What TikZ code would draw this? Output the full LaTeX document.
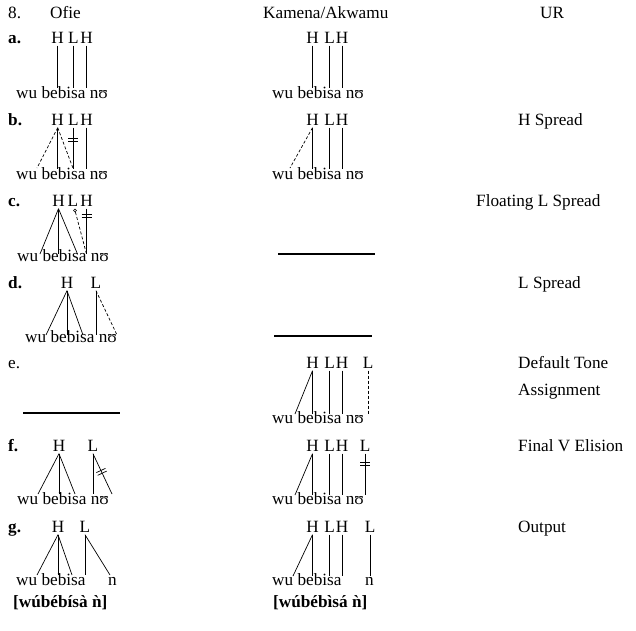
\documentclass[tikz,border=0pt]{standalone}
\usepackage{fontspec}
\setmainfont{Liberation Serif}
\usetikzlibrary{decorations.markings}
\tikzset{
  tone/.style={inner xsep=0pt, inner ysep=2.5pt, anchor=base},
  words/.style={inner sep=0pt, anchor=base west},
  assoc/.style={line width=0.7pt},
  spread/.style={line width=0.7pt, dash pattern=on 3pt off 2pt},
  blank/.style={line width=1.2pt},
  floatl/.style={circle, draw, line width=0.5pt, inner sep=0pt, minimum size=3pt},
  delink/.style={
    postaction={decorate},
    decoration={markings,
      mark=at position #1 with {\draw[line width=0.7pt] (-1.5pt,-5pt)--(-1.5pt,5pt) (1.5pt,-5pt)--(1.5pt,5pt);}
    }
  }
}

\begin{document}
\begin{tikzpicture}[x=1pt,y=-1pt,every node/.style={font=\fontsize{17.2}{20}\selectfont}]
  \useasboundingbox (0,0) rectangle (636,630);

  % headings
  \node[words] (num) at (8,18) {8.};
  \node[words] (ofie) at (50,18) {Ofie};
  \node[words] (kamena) at (263,18) {Kamena/Akwamu};
  \node[words] (ur) at (540,18) {UR};

  % row letters
  \node[words] (la) at (8,43) {\textbf{a.}};
  \node[words] (lb) at (8,125) {\textbf{b.}};
  \node[words] (lc) at (8,206) {\textbf{c.}};
  \node[words] (ld) at (8,288) {\textbf{d.}};
  \node[words] (le) at (8,368) {e.};
  \node[words] (lf) at (8,451) {\textbf{f.}};
  \node[words] (lg) at (8,532) {\textbf{g.}};

  % rule names
  \node[words] (rb) at (518,125) {H Spread};
  \node[words] (rc) at (476,206) {Floating L Spread};
  \node[words] (rd) at (518,288) {L Spread};
  \node[words] (re) at (518,368) {Default Tone};
  \node[words] (re2) at (518,395) {Assignment};
  \node[words] (rf) at (518,451) {Final V Elision};
  \node[words] (rg) at (518,532) {Output};

  % ---- Ofie ----
  % a.
  \node[tone] (aH1) at (57.7,43) {H};
  \node[tone] (aL1) at (73.3,43) {L};
  \node[tone] (aH2) at (86.7,43) {H};
  \node[words] (aw) at (16,98) {wu bebisa nʊ};
  \coordinate (a-bi) at (57.7,88);
  \coordinate (a-sa) at (73.3,88);
  \coordinate (a-nu) at (86.7,88);
  \draw[assoc] (aH1.south) -- (a-bi);
  \draw[assoc] (aL1.south) -- (a-sa);
  \draw[assoc] (aH2.south) -- (a-nu);

  % b.
  \node[tone] (bH1) at (57.7,125) {H};
  \node[tone] (bL1) at (73.3,125) {L};
  \node[tone] (bH2) at (86.7,125) {H};
  \node[words] (bw) at (16,179) {wu bebisa nʊ};
  \coordinate (b-wu) at (37,168);
  \coordinate (b-bi) at (57.7,169);
  \coordinate (b-sa) at (73.3,169);
  \coordinate (b-nu) at (86.7,169);
  \draw[spread] (bH1.south) -- (b-wu);
  \draw[spread] (bH1.south) -- (b-sa);
  \draw[assoc] (bH1.south) -- (b-bi);
  \draw[assoc,delink=0.3] (bL1.south) -- (b-sa);
  \draw[assoc] (bH2.south) -- (b-nu);

  % c.
  \node[tone] (cH1) at (58.5,206) {H};
  \node[tone] (cL1) at (73,206) {L};
  \node[tone] (cH2) at (86.5,206) {H};
  \node[floatl] (cfl) at (75,210.5) {};
  \node[words] (cw) at (17,261) {wu bebisa nʊ};
  \coordinate (c-wu) at (40,254);
  \coordinate (c-bi) at (58.5,254);
  \coordinate (c-sa) at (77.5,254);
  \coordinate (c-nu) at (86.5,254);
  \draw[assoc] (cH1.south) -- (c-wu);
  \draw[assoc] (cH1.south) -- (c-bi);
  \draw[assoc] (cH1.south) -- (c-sa);
  \draw[spread] (cfl) -- (c-nu);
  \draw[assoc,delink=0.15] (cH2.south) -- (c-nu);

  % d.
  \node[tone] (dH1) at (67,288) {H};
  \node[tone] (dL1) at (96,288) {L};
  \node[words] (dw) at (25,342) {wu bebisa nʊ};
  \coordinate (d-wu) at (46,335);
  \coordinate (d-bi) at (67,335);
  \coordinate (d-sa) at (83,335);
  \coordinate (d-n) at (96,335);
  \coordinate (d-nu) at (117,335);
  \draw[assoc] (dH1.south) -- (d-wu);
  \draw[assoc] (dH1.south) -- (d-bi);
  \draw[assoc] (dH1.south) -- (d-sa);
  \draw[assoc] (dL1.south) -- (d-n);
  \draw[spread] (dL1.south) -- (d-nu);

  % e.
  \draw[blank] (23,413) -- (120,413);

  % f.
  \node[tone] (fH1) at (59,451) {H};
  \node[tone] (fL1) at (93,451) {L};
  \node[words] (fw) at (17,504) {wu bebisa nʊ};
  \coordinate (f-wu) at (38,494);
  \coordinate (f-bi) at (59,494);
  \coordinate (f-sa) at (75,494);
  \coordinate (f-n) at (93,494);
  \coordinate (f-nu) at (112,494);
  \draw[assoc] (fH1.south) -- (f-wu);
  \draw[assoc] (fH1.south) -- (f-bi);
  \draw[assoc] (fH1.south) -- (f-sa);
  \draw[assoc] (fL1.south) -- (f-n);
  \draw[assoc,delink=0.45] (fL1.south) -- (f-nu);

  % g.
  \node[tone] (gH1) at (58,532) {H};
  \node[tone] (gL1) at (85,532) {L};
  \node[words] (gw) at (16,585) {wu bebisa};
  \node[words] (gn) at (108,585) {n};
  \coordinate (g-wu) at (37,575);
  \coordinate (g-bi) at (58,575);
  \coordinate (g-sa) at (72,575);
  \coordinate (g-sa2) at (85,575);
  \coordinate (g-n) at (110,575);
  \draw[assoc] (gH1.south) -- (g-wu);
  \draw[assoc] (gH1.south) -- (g-bi);
  \draw[assoc] (gH1.south) -- (g-sa);
  \draw[assoc] (gL1.south) -- (g-sa2);
  \draw[assoc] (gL1.south) -- (g-n);
  \node[words] (gout) at (13,607) {\textbf{[wúbébísà ǹ]}};

  % ---- Kamena/Akwamu ----
  % a.
  \node[tone] (kaH1) at (312.5,43) {H};
  \node[tone] (kaL1) at (329.5,43) {L};
  \node[tone] (kaH2) at (342,43) {H};
  \node[words] (kaw) at (272,98) {wu bebisa nʊ};
  \coordinate (ka-bi) at (312.5,88);
  \coordinate (ka-sa) at (329.5,88);
  \coordinate (ka-nu) at (342,88);
  \draw[assoc] (kaH1.south) -- (ka-bi);
  \draw[assoc] (kaL1.south) -- (ka-sa);
  \draw[assoc] (kaH2.south) -- (ka-nu);

  % b.
  \node[tone] (kbH1) at (312.5,125) {H};
  \node[tone] (kbL1) at (329.5,125) {L};
  \node[tone] (kbH2) at (342,125) {H};
  \node[words] (kbw) at (272,179) {wu bebisa nʊ};
  \coordinate (kb-wu) at (290,168);
  \coordinate (kb-bi) at (312.5,169);
  \coordinate (kb-sa) at (329.5,169);
  \coordinate (kb-nu) at (342,169);
  \draw[spread] (kbH1.south) -- (kb-wu);
  \draw[assoc] (kbH1.south) -- (kb-bi);
  \draw[assoc] (kbL1.south) -- (kb-sa);
  \draw[assoc] (kbH2.south) -- (kb-nu);

  % c. and d.
  \draw[blank] (278,254) -- (375,254);
  \draw[blank] (274,336) -- (372,336);

  % e.
  \node[tone] (keH1) at (312.5,368) {H};
  \node[tone] (keL1) at (329.5,368) {L};
  \node[tone] (keH2) at (342,368) {H};
  \node[tone] (keL2) at (368,368) {L};
  \node[words] (kew) at (272,423) {wu bebisa nʊ};
  \coordinate (ke-wu) at (295,414);
  \coordinate (ke-bi) at (312.5,414);
  \coordinate (ke-sa) at (329.5,414);
  \coordinate (ke-nu) at (342,414);
  \coordinate (ke-nu2) at (368,414);
  \draw[assoc] (keH1.south) -- (ke-wu);
  \draw[assoc] (keH1.south) -- (ke-bi);
  \draw[assoc] (keL1.south) -- (ke-sa);
  \draw[assoc] (keH2.south) -- (ke-nu);
  \draw[spread] (keL2.south) -- (ke-nu2);

  % f.
  \node[tone] (kfH1) at (312.5,451) {H};
  \node[tone] (kfL1) at (329.5,451) {L};
  \node[tone] (kfH2) at (342,451) {H};
  \node[tone] (kfL2) at (365,451) {L};
  \node[words] (kfw) at (272,504) {wu bebisa nʊ};
  \coordinate (kf-wu) at (295,495);
  \coordinate (kf-bi) at (312.5,495);
  \coordinate (kf-sa) at (329.5,495);
  \coordinate (kf-nu) at (342,495);
  \coordinate (kf-nu2) at (365,495);
  \draw[assoc] (kfH1.south) -- (kf-wu);
  \draw[assoc] (kfH1.south) -- (kf-bi);
  \draw[assoc] (kfL1.south) -- (kf-sa);
  \draw[assoc] (kfH2.south) -- (kf-nu);
  \draw[assoc,delink=0.24] (kfL2.south) -- (kf-nu2);

  % g.
  \node[tone] (kgH1) at (312.5,532) {H};
  \node[tone] (kgL1) at (329.5,532) {L};
  \node[tone] (kgH2) at (342,532) {H};
  \node[tone] (kgL2) at (370,532) {L};
  \node[words] (kgw) at (272,585) {wu bebisa};
  \node[words] (kgn) at (365,585) {n};
  \coordinate (kg-wu) at (293,576);
  \coordinate (kg-bi) at (312.5,576);
  \coordinate (kg-sa) at (329.5,576);
  \coordinate (kg-sa2) at (342,576);
  \coordinate (kg-n) at (370,576);
  \draw[assoc] (kgH1.south) -- (kg-wu);
  \draw[assoc] (kgH1.south) -- (kg-bi);
  \draw[assoc] (kgL1.south) -- (kg-sa);
  \draw[assoc] (kgH2.south) -- (kg-sa2);
  \draw[assoc] (kgL2.south) -- (kg-n);
  \node[words] (kgout) at (273,607) {\textbf{[wúbébìsá ǹ]}};
\end{tikzpicture}
\end{document}
